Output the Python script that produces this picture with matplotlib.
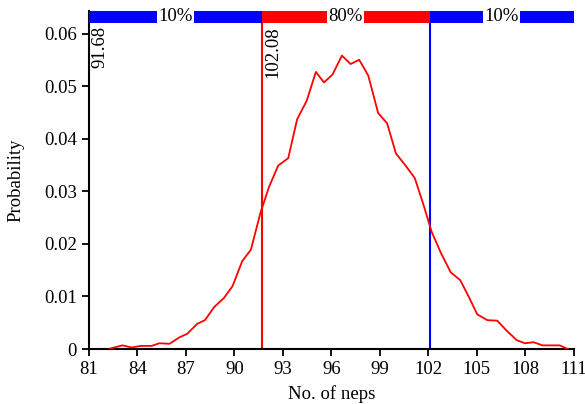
import matplotlib
matplotlib.use("Agg")
import matplotlib.pyplot as plt

plt.rcParams['font.family'] = ['Liberation Serif', 'DejaVu Serif']

# distribution
neps = [82.30, 83.08, 83.64, 84.22, 84.88, 85.35, 85.99, 86.58, 87.08, 87.70,
        88.18, 88.75, 89.35, 89.89, 90.48, 91.02, 91.61, 92.15, 92.71, 93.33,
        93.88, 94.47, 95.04, 95.54, 96.07, 96.65, 97.19, 97.72, 98.28, 98.89,
        99.45, 99.99, 100.61, 101.16, 101.68, 102.20, 102.77, 103.38, 103.97, 104.52,
        105.02, 105.64, 106.26, 106.84, 107.46, 107.97, 108.51, 109.06, 109.61, 110.13,
        110.63]
prob = [0.0001, 0.0007, 0.0003, 0.0006, 0.0006, 0.0011, 0.0010, 0.0022, 0.0029, 0.0048,
        0.0055, 0.0080, 0.0097, 0.0120, 0.0167, 0.0189, 0.0259, 0.0309, 0.0349, 0.0363,
        0.0437, 0.0472, 0.0527, 0.0507, 0.0522, 0.0558, 0.0542, 0.0550, 0.0520, 0.0449,
        0.0429, 0.0372, 0.0348, 0.0325, 0.0276, 0.0223, 0.0183, 0.0146, 0.0131, 0.0098,
        0.0066, 0.0055, 0.0054, 0.0035, 0.0017, 0.0011, 0.0013, 0.0007, 0.0007, 0.0007,
        0.0000]

lo, hi = 91.68, 102.08
xmin, xmax = 81, 111
xticks = list(range(81, 112, 3))
yticks = [0, 0.01, 0.02, 0.03, 0.04, 0.05, 0.06]
ytick_labels = ['0', '0.01', '0.02', '0.03', '0.04', '0.05', '0.06']
bands = [(xmin, lo, 'blue', '10%'), (lo, hi, 'red', '80%'), (hi, xmax, 'blue', '10%')]

ytop = 0.0643
bar_bottom = 0.0620
fs = 13.5

fig = plt.figure(figsize=(5.85, 4.04), dpi=100)
ax = fig.add_axes([0.152, 0.136, 0.829, 0.837])

ax.plot(neps, prob, color='red', lw=1.3, zorder=3)
ax.axvline(lo, color='red', lw=1.5, zorder=2)
ax.axvline(hi, color='blue', lw=1.5, zorder=2)

# percentage band along the top
for a, b, c, lab in bands:
    ax.barh(bar_bottom, b - a, left=a, height=ytop - bar_bottom, align='edge',
            color=c, zorder=4, clip_on=False)
    ax.text((a + b) / 2, (bar_bottom + ytop) / 2, lab, ha='center', va='center',
            fontsize=fs, zorder=5,
            bbox=dict(facecolor='white', edgecolor='none', pad=1.0))

# labels as they appear in the original
ax.text(xmin + 0.15, bar_bottom - 0.0006, '91.68', rotation=90, ha='left', va='top', fontsize=fs)
ax.text(lo + 0.15, bar_bottom - 0.0006, '102.08', rotation=90, ha='left', va='top', fontsize=fs)

ax.set_xlim(xmin, xmax)
ax.set_ylim(0, ytop)
ax.set_xticks(xticks)
ax.set_yticks(yticks)
ax.set_yticklabels(ytick_labels)
ax.tick_params(direction='out', length=5, width=1.3, labelsize=fs)
for s in ['top', 'right']:
    ax.spines[s].set_visible(False)
for s in ['left', 'bottom']:
    ax.spines[s].set_linewidth(1.5)

ax.set_xlabel('No. of neps', fontsize=fs, labelpad=5)
ax.set_ylabel('Probability', fontsize=fs, labelpad=14)

fig.savefig('out.png', dpi=100)
